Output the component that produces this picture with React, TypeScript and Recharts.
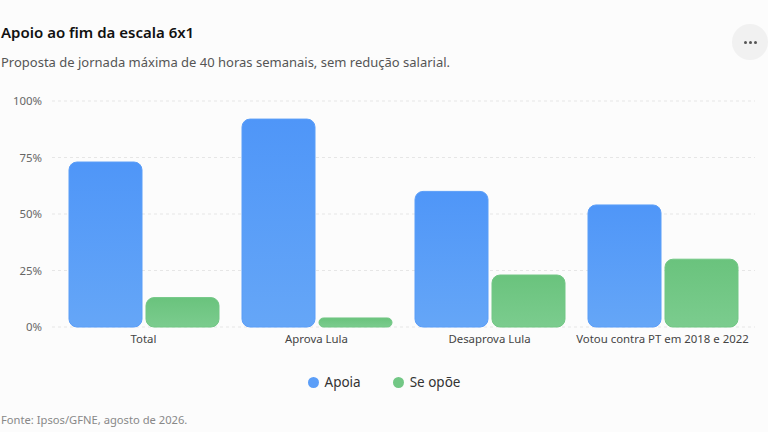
import React from 'react';
import { BarChart, Bar, XAxis, YAxis, CartesianGrid, Legend } from 'recharts';

const CATEGORIES = ['Total', 'Aprova Lula', 'Desaprova Lula', 'Votou contra PT em 2018 e 2022'];
const APOIA = [73, 92, 60, 54];
const SE_OPOE = [13, 4, 23, 30];
const Y_TICKS = [0, 25, 50, 75, 100];

const FONT = '"Noto Sans", "Open Sans", sans-serif';

const data = CATEGORIES.map((name, i) => ({ name, apoia: APOIA[i], seOpoe: SE_OPOE[i] }));

function LegendContent({ payload }: any) {
    return (
        <div style={{ display: 'flex', justifyContent: 'center', gap: 32, fontFamily: FONT, fontSize: 13.5, color: '#333' }}>
            {(payload || []).map((p: any) => (
                <div key={p.value} style={{ display: 'flex', alignItems: 'center', gap: 6 }}>
                    <span style={{ width: 11, height: 11, borderRadius: '50%', background: p.payload.stroke || p.color, display: 'inline-block' }} />
                    <span>{p.value}</span>
                </div>
            ))}
        </div>
    );
}

export default function App() {
    return (
        <div style={{ position: 'absolute', left: 0, top: 0, width: 768, height: 432, background: '#fcfcfc', fontFamily: FONT }}>
            <div style={{ position: 'absolute', left: 1, top: 22, fontSize: 15, fontWeight: 600, color: '#111' }}>
                Apoio ao fim da escala 6x1
            </div>
            <div style={{ position: 'absolute', left: 1, top: 53, fontSize: 13, color: '#555' }}>
                Proposta de jornada máxima de 40 horas semanais, sem redução salarial.
            </div>
            <div style={{ position: 'absolute', left: 732, top: 24, width: 36, height: 36, borderRadius: '50%', background: '#f1f1f1', display: 'flex', alignItems: 'center', justifyContent: 'center', gap: 2 }}>
                {[0, 1, 2].map(i => (
                    <span key={i} style={{ width: 3, height: 3, borderRadius: '50%', background: '#555', display: 'inline-block' }} />
                ))}
            </div>
            <div style={{ position: 'absolute', left: 0, top: 0 }}>
                <BarChart width={768} height={432} data={data} margin={{ top: 101, right: 13, bottom: 57, left: 0 }} barCategoryGap={12} barGap={4}>
                    <defs>
                        <linearGradient id="gBlue" x1="0" y1="0" x2="0" y2="1">
                            <stop offset="0%" stopColor="#4f96f8" />
                            <stop offset="100%" stopColor="#65a6f7" />
                        </linearGradient>
                        <linearGradient id="gGreen" x1="0" y1="0" x2="0" y2="1">
                            <stop offset="0%" stopColor="#6ac37d" />
                            <stop offset="100%" stopColor="#7bcc8e" />
                        </linearGradient>
                    </defs>
                    <CartesianGrid vertical={false} stroke="#e6e6e6" strokeDasharray="3 3" />
                    <XAxis
                        dataKey="name"
                        axisLine={false}
                        tickLine={false}
                        padding={{ left: 5, right: 6 }}
                        tick={{ fill: '#444', fontSize: 11.4, fontFamily: FONT }}
                        interval={0}
                    />
                    <YAxis
                        width={52}
                        domain={[0, 100]}
                        ticks={Y_TICKS}
                        axisLine={false}
                        tickLine={false}
                        tickMargin={4}
                        tickFormatter={(v: number) => `${v}%`}
                        tick={{ fill: '#666', fontSize: 11.4, fontFamily: FONT }}
                    />
                    <Legend
                        content={<LegendContent />}
                        wrapperStyle={{ position: 'absolute', top: 373, left: 0, width: 768 }}
                    />
                    <Bar dataKey="apoia" name="Apoia" fill="url(#gBlue)" stroke="#5b9ef8" radius={8} isAnimationActive={false} />
                    <Bar dataKey="seOpoe" name="Se opõe" fill="url(#gGreen)" stroke="#72c785" radius={8} isAnimationActive={false} />
                </BarChart>
            </div>
            <div style={{ position: 'absolute', left: 1, top: 412, fontSize: 11.2, color: '#888' }}>
                Fonte: Ipsos/GFNE, agosto de 2026.
            </div>
        </div>
    );
}
